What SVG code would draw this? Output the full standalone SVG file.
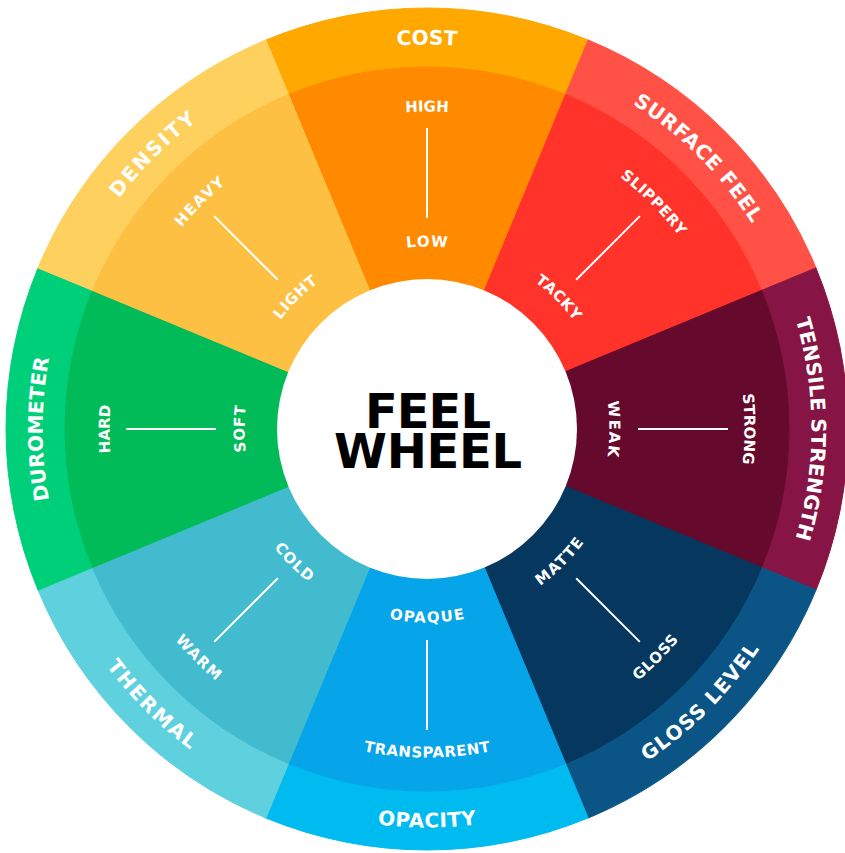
<svg xmlns="http://www.w3.org/2000/svg" xmlns:xlink="http://www.w3.org/1999/xlink" width="845" height="853" viewBox="0 0 845 853">
<style>
.lbl{font-family:"DejaVu Sans","Liberation Sans",sans-serif;font-weight:bold;fill:#fff;text-anchor:middle}
.outer{font-size:20px}
.inner{font-size:15px}
.tick{stroke:#fff;stroke-width:2;fill:none}
.center{font-family:"DejaVu Sans","Liberation Sans",sans-serif;font-weight:bold;font-size:48px;fill:#000;text-anchor:middle}
</style>
<defs>
<path id="band" d="M265.89,40.05 A421,421 0 0 1 588.11,40.05 L565.53,94.56 A362,362 0 0 0 288.47,94.56 Z"/>
<path id="wedge" d="M427,429 L288.47,94.56 A362,362 0 0 1 565.53,94.56 Z"/>
<path id="tOut" d="M94.01,236.75 A384.5,384.5 0 0 1 759.99,236.75"/>
<path id="tFar" d="M152.03,270.25 A317.5,317.5 0 0 1 701.97,270.25"/>
<path id="tNear" d="M268.95,337.75 A182.5,182.5 0 0 1 585.05,337.75"/>
<path id="bOut" d="M81.89,628.25 A398.5,398.5 0 0 0 772.11,628.25"/>
<path id="bFar" d="M142.51,593.25 A328.5,328.5 0 0 0 711.49,593.25"/>
<path id="bNear" d="M259.43,525.75 A193.5,193.5 0 0 0 594.57,525.75"/>
</defs>

<g id="cost">
<use xlink:href="#band" href="#band" fill="#FFA800" stroke="#FFA800" stroke-width="1"/>
<use xlink:href="#wedge" href="#wedge" fill="#FF8A00" stroke="#FF8A00" stroke-width="1"/>
<text class="lbl outer" textLength="60"><textPath href="#tOut" xlink:href="#tOut" startOffset="50%">COST</textPath></text>
<text class="lbl inner" textLength="43"><textPath href="#tFar" xlink:href="#tFar" startOffset="50%">HIGH</textPath></text>
<text class="lbl inner" textLength="41"><textPath href="#tNear" xlink:href="#tNear" startOffset="50%">LOW</textPath></text>
</g>

<g id="surface-feel" transform="rotate(45 427 429)">
<use xlink:href="#band" href="#band" fill="#FF5145" stroke="#FF5145" stroke-width="1"/>
<use xlink:href="#wedge" href="#wedge" fill="#FF3329" stroke="#FF3329" stroke-width="1"/>
<text class="lbl outer" textLength="170"><textPath href="#tOut" xlink:href="#tOut" startOffset="50%">SURFACE FEEL</textPath></text>
<text class="lbl inner" textLength="84"><textPath href="#tFar" xlink:href="#tFar" startOffset="50%">SLIPPERY</textPath></text>
<text class="lbl inner" textLength="56"><textPath href="#tNear" xlink:href="#tNear" startOffset="50%">TACKY</textPath></text>
</g>

<g id="tensile-strength" transform="rotate(90 427 429)">
<use xlink:href="#band" href="#band" fill="#861444" stroke="#861444" stroke-width="1"/>
<use xlink:href="#wedge" href="#wedge" fill="#650A2C" stroke="#650A2C" stroke-width="1"/>
<text class="lbl outer" textLength="222"><textPath href="#tOut" xlink:href="#tOut" startOffset="50%">TENSILE STRENGTH</textPath></text>
<text class="lbl inner" textLength="70"><textPath href="#tFar" xlink:href="#tFar" startOffset="50%">STRONG</textPath></text>
<text class="lbl inner" textLength="55"><textPath href="#tNear" xlink:href="#tNear" startOffset="50%">WEAK</textPath></text>
</g>

<g id="gloss-level">
<use xlink:href="#band" href="#band" fill="#0A5585" stroke="#0A5585" stroke-width="1" transform="rotate(135 427 429)"/>
<use xlink:href="#wedge" href="#wedge" fill="#05375F" stroke="#05375F" stroke-width="1" transform="rotate(135 427 429)"/>
<g transform="rotate(-45 427 429)">
<text class="lbl outer" textLength="160"><textPath href="#bOut" xlink:href="#bOut" startOffset="50%">GLOSS LEVEL</textPath></text>
<text class="lbl inner" textLength="58"><textPath href="#bFar" xlink:href="#bFar" startOffset="50%">GLOSS</textPath></text>
<text class="lbl inner" textLength="62"><textPath href="#bNear" xlink:href="#bNear" startOffset="50%">MATTE</textPath></text>
</g>
</g>

<g id="opacity">
<use xlink:href="#band" href="#band" fill="#00BBF0" stroke="#00BBF0" stroke-width="1" transform="rotate(180 427 429)"/>
<use xlink:href="#wedge" href="#wedge" fill="#06A4E8" stroke="#06A4E8" stroke-width="1" transform="rotate(180 427 429)"/>
<text class="lbl outer" textLength="99"><textPath href="#bOut" xlink:href="#bOut" startOffset="50%">OPACITY</textPath></text>
<text class="lbl inner" textLength="128"><textPath href="#bFar" xlink:href="#bFar" startOffset="50%">TRANSPARENT</textPath></text>
<text class="lbl inner" textLength="76"><textPath href="#bNear" xlink:href="#bNear" startOffset="50%">OPAQUE</textPath></text>
</g>

<g id="thermal">
<use xlink:href="#band" href="#band" fill="#5FD0DE" stroke="#5FD0DE" stroke-width="1" transform="rotate(225 427 429)"/>
<use xlink:href="#wedge" href="#wedge" fill="#43BBCE" stroke="#43BBCE" stroke-width="1" transform="rotate(225 427 429)"/>
<g transform="rotate(45 427 429)">
<text class="lbl outer" textLength="119"><textPath href="#bOut" xlink:href="#bOut" startOffset="50%">THERMAL</textPath></text>
<text class="lbl inner" textLength="58"><textPath href="#bFar" xlink:href="#bFar" startOffset="50%">WARM</textPath></text>
<text class="lbl inner" textLength="49"><textPath href="#bNear" xlink:href="#bNear" startOffset="50%">COLD</textPath></text>
</g>
</g>

<g id="durometer" transform="rotate(-90 427 429)">
<use xlink:href="#band" href="#band" fill="#00CF7A" stroke="#00CF7A" stroke-width="1"/>
<use xlink:href="#wedge" href="#wedge" fill="#00BB57" stroke="#00BB57" stroke-width="1"/>
<text class="lbl outer" textLength="143"><textPath href="#tOut" xlink:href="#tOut" startOffset="50%">DUROMETER</textPath></text>
<text class="lbl inner" textLength="48"><textPath href="#tFar" xlink:href="#tFar" startOffset="50%">HARD</textPath></text>
<text class="lbl inner" textLength="46"><textPath href="#tNear" xlink:href="#tNear" startOffset="50%">SOFT</textPath></text>
</g>

<g id="density" transform="rotate(-45 427 429)">
<use xlink:href="#band" href="#band" fill="#FED05E" stroke="#FED05E" stroke-width="1"/>
<use xlink:href="#wedge" href="#wedge" fill="#FEC043" stroke="#FEC043" stroke-width="1"/>
<text class="lbl outer" textLength="110"><textPath href="#tOut" xlink:href="#tOut" startOffset="50%">DENSITY</textPath></text>
<text class="lbl inner" textLength="62"><textPath href="#tFar" xlink:href="#tFar" startOffset="50%">HEAVY</textPath></text>
<text class="lbl inner" textLength="53"><textPath href="#tNear" xlink:href="#tNear" startOffset="50%">LIGHT</textPath></text>
</g>

<g id="connectors">
<line class="tick" x1="427" y1="128" x2="427" y2="218"/>
<line class="tick" x1="427" y1="128" x2="427" y2="218" transform="rotate(45 427 429)"/>
<line class="tick" x1="427" y1="128" x2="427" y2="218" transform="rotate(90 427 429)"/>
<line class="tick" x1="427" y1="128" x2="427" y2="218" transform="rotate(135 427 429)"/>
<line class="tick" x1="427" y1="128" x2="427" y2="218" transform="rotate(180 427 429)"/>
<line class="tick" x1="427" y1="128" x2="427" y2="218" transform="rotate(225 427 429)"/>
<line class="tick" x1="427" y1="128" x2="427" y2="218" transform="rotate(270 427 429)"/>
<line class="tick" x1="427" y1="128" x2="427" y2="218" transform="rotate(315 427 429)"/>
</g>

<g id="feel-wheel">
<circle cx="427" cy="429" r="150" fill="#fff"/>
<text class="center" x="428" y="428" textLength="126">FEEL</text>
<text class="center" x="428" y="468" textLength="188">WHEEL</text>
</g>
</svg>
